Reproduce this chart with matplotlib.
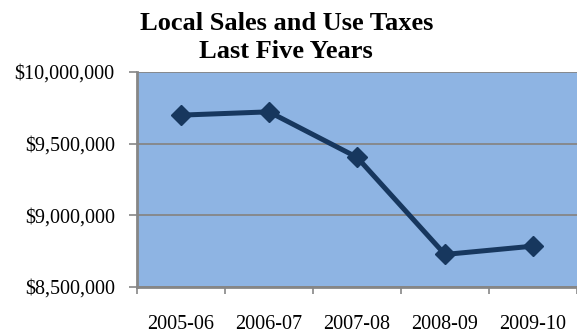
import numpy as np
import matplotlib.pyplot as plt
from matplotlib.ticker import FuncFormatter

# Local sales and use tax receipts by fiscal year
years = ['2005-06', '2006-07', '2007-08', '2008-09', '2009-10']
taxes = [9699000, 9722000, 9405000, 8727000, 8785000]

plt.rcParams['font.family'] = ['Liberation Serif', 'DejaVu Serif']

fig = plt.figure(figsize=(5.77, 3.35), dpi=100)
ax = fig.add_axes([0.2374, 0.1433, 0.7626, 0.6418])
ax.set_facecolor('#8EB4E3')

x = np.arange(len(years))
ax.plot(x, taxes, color='#17375E', lw=3.6, marker='D', markersize=10,
        solid_joinstyle='miter')

ax.set_xlim(-0.5, len(years) - 0.5)
ax.set_ylim(8500000, 10000000)
ax.set_yticks([8500000, 9000000, 9500000, 10000000])
ax.yaxis.set_major_formatter(FuncFormatter(lambda v, p: '${:,.0f}'.format(v)))
ax.set_xticks(x)
ax.set_xticklabels(years)
ax.set_xticks(np.arange(len(years) + 1) - 0.5, minor=True)
ax.tick_params(axis='x', which='major', length=0, pad=20, labelsize=14.5)
ax.tick_params(axis='x', which='minor', length=5, width=1.2, color='#868686')
ax.tick_params(axis='y', length=6, width=1.2, color='#868686', pad=10, labelsize=14.5)

ax.grid(axis='y', color='#868686', lw=1.3)
ax.set_axisbelow(True)
for side in ['top', 'right']:
    ax.spines[side].set_visible(False)
for side in ['left', 'bottom']:
    ax.spines[side].set_color('#868686')
    ax.spines[side].set_linewidth(2)

fig.text(0.496, 1 - 30 / 335, 'Local Sales and Use Taxes', ha='center', va='baseline',
         fontsize=19, fontweight='bold')
fig.text(0.496, 1 - 58 / 335, 'Last Five Years', ha='center', va='baseline',
         fontsize=19, fontweight='bold')

fig.savefig('out.png', dpi=100)
